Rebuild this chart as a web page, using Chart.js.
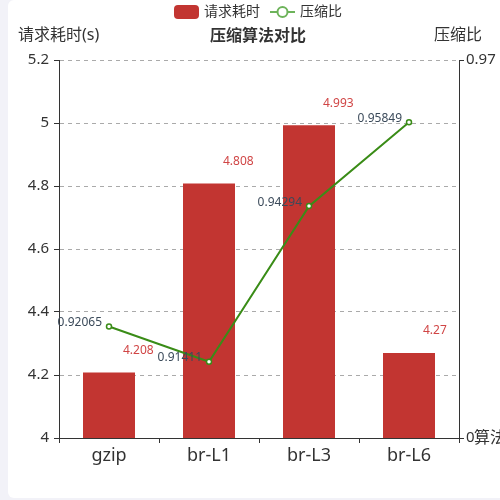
<!DOCTYPE html>
<html>
<head>
<meta charset="utf-8">
<script src="https://cdn.jsdelivr.net/npm/chart.js@4.4.0/dist/chart.umd.min.js"></script>
<style>
  html, body { margin: 0; padding: 0; width: 500px; height: 500px; overflow: hidden; background: #f2f2f8; }
  #card { position: absolute; left: 8px; top: 0; width: 510px; height: 498px; background: #fff; border-radius: 6px; }
  #wrap { position: absolute; left: 0; top: 0; width: 500px; height: 500px; }
</style>
</head>
<body>
<div id="card"></div>
<div id="wrap"><canvas id="myChart" width="500" height="500"></canvas></div>
<script>
const algorithms = ["gzip", "br-L1", "br-L3", "br-L6"];
const requestTimes = [4.208, 4.808, 4.993, 4.27];
const compressRatios = [0.92065, 0.91411, 0.94294, 0.95849];
const timeTicks = [4, 4.2, 4.4, 4.6, 4.8, 5, 5.2];
const ratioTicks = [0.9, 0.97];

const FONT = "'Noto Sans', 'Noto Sans CJK SC', sans-serif";
const barColor = "#c23531";
const lineColor = "#3a8c17";

Chart.defaults.font.family = FONT;
Chart.defaults.color = "#333";

// legend, title, axis names and value labels
const extrasPlugin = {
  id: "extras",
  afterDatasetsDraw(chart) {
    const ctx = chart.ctx;
    ctx.save();
    ctx.textBaseline = "middle";

    ctx.font = "12px " + FONT;
    ctx.textAlign = "left";
    ctx.fillStyle = "#d04545";
    chart.getDatasetMeta(0).data.forEach((bar, i) => {
      ctx.fillText(String(requestTimes[i]), bar.x + 14, bar.y - 22);
    });

    ctx.textAlign = "right";
    ctx.fillStyle = "#3b4a5a";
    chart.getDatasetMeta(1).data.forEach((pt, i) => {
      ctx.fillText(String(compressRatios[i]), pt.x - 7, pt.y - 4);
    });
    ctx.restore();
  },
  afterDraw(chart) {
    const ctx = chart.ctx;
    const area = chart.chartArea;
    ctx.save();
    ctx.textBaseline = "middle";

    // legend
    ctx.fillStyle = barColor;
    ctx.beginPath();
    ctx.roundRect(174, 5, 25, 14, 4);
    ctx.fill();
    ctx.font = "14px " + FONT;
    ctx.fillStyle = "#333";
    ctx.textAlign = "left";
    ctx.fillText(chart.data.datasets[0].label, 204, 12);

    ctx.strokeStyle = "#6db35a";
    ctx.lineWidth = 2;
    ctx.beginPath();
    ctx.moveTo(270, 12);
    ctx.lineTo(295, 12);
    ctx.stroke();
    ctx.beginPath();
    ctx.arc(282.5, 12, 5, 0, Math.PI * 2);
    ctx.fillStyle = "#fff";
    ctx.fill();
    ctx.stroke();
    ctx.fillStyle = "#333";
    ctx.fillText(chart.data.datasets[1].label, 300, 12);

    // title
    ctx.font = "bold 16px " + FONT;
    ctx.textAlign = "center";
    ctx.fillText("压缩算法对比", 258, 36);

    // axis names
    ctx.font = "16px " + FONT;
    ctx.textAlign = "left";
    ctx.fillText("请求耗时(s)", 18, 35);
    ctx.fillText("压缩比", 434, 35);
    ctx.fillText("算法", 474, area.bottom);
    ctx.restore();
  }
};

const ctx = document.getElementById("myChart").getContext("2d");
new Chart(ctx, {
  data: {
    labels: algorithms,
    datasets: [
      {
        type: "bar",
        label: "请求耗时",
        data: requestTimes,
        backgroundColor: barColor,
        barPercentage: 0.52,
        categoryPercentage: 1,
        yAxisID: "y",
        order: 2,
      },
      {
        type: "line",
        label: "压缩比",
        data: compressRatios,
        borderColor: lineColor,
        borderWidth: 2,
        pointRadius: 2.5,
        pointBackgroundColor: "#fff",
        pointBorderColor: lineColor,
        pointBorderWidth: 1.5,
        tension: 0,
        yAxisID: "y1",
        order: 1,
      },
    ],
  },
  options: {
    responsive: false,
    animation: false,
    layout: { padding: { top: 60, left: 0, right: 0, bottom: 0 } },
    plugins: {
      legend: { display: false },
      title: { display: false },
      tooltip: { enabled: false },
    },
    scales: {
      x: {
        offset: true,
        grid: { display: true, drawOnChartArea: false, offset: true, tickLength: 5, color: "#333" },
        border: { color: "#333" },
        ticks: { color: "#333", font: { size: 18 }, padding: 2 },
        afterFit(scale) { scale.height = 62; },
      },
      y: {
        position: "left",
        min: 4,
        max: 5.2,
        afterBuildTicks(scale) { scale.ticks = timeTicks.map((v) => ({ value: v })); },
        grid: {
          color: (c) => (c.tick && c.tick.value === 4 ? "rgba(0,0,0,0)" : "#aaa"),
          tickColor: "#333",
          tickLength: 5,
          tickBorderDash: [],
        },
        border: { color: "#333", dash: [4, 4] },
        ticks: { color: "#333", font: { size: 15 }, padding: 5, callback: (v) => String(v) },
        afterFit(scale) { scale.width = 59; },
      },
      y1: {
        position: "right",
        min: 0.9,
        max: 0.97,
        afterBuildTicks(scale) { scale.ticks = ratioTicks.map((v) => ({ value: v })); },
        grid: { drawOnChartArea: false, tickLength: 5, color: "#333" },
        border: { color: "#333" },
        ticks: {
          color: "#333",
          font: { size: 15 },
          padding: 2,
          callback: (v) => (v === ratioTicks[0] ? "0" : String(v)),
        },
        afterFit(scale) { scale.width = 41; },
      },
    },
  },
  plugins: [extrasPlugin],
});
</script>
</body>
</html>
